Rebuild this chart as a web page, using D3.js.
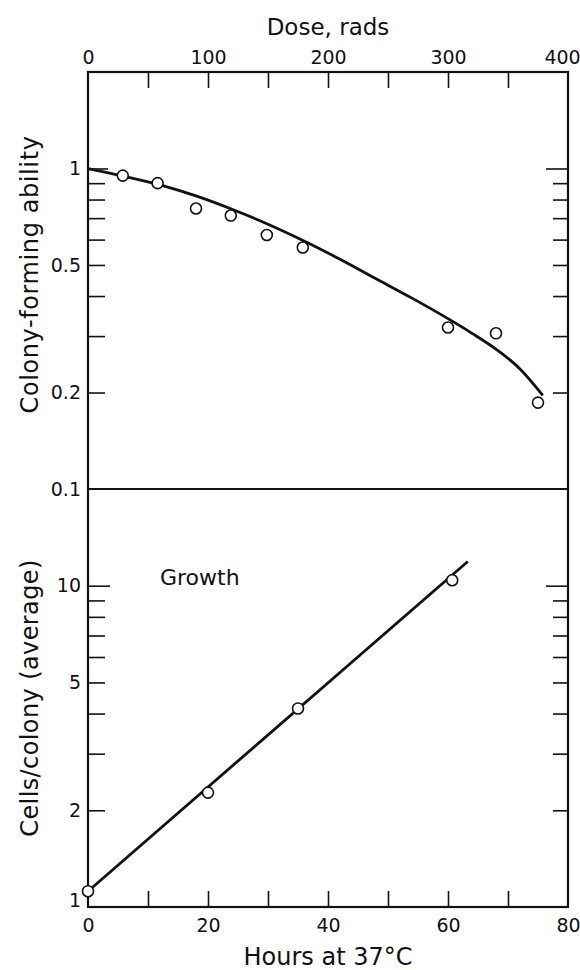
<!DOCTYPE html>
<html>
<head>
<meta charset="utf-8">
<script src="https://cdn.jsdelivr.net/npm/d3@7"></script>
<style>
  body { margin: 0; background: #fff; }
  text { font-family: "DejaVu Sans", sans-serif; fill: #111; }
</style>
</head>
<body>
<svg id="chart" width="580" height="970"></svg>
<script>
// tick values
const doseTicks = [0, 100, 200, 300, 400];
const doseMinor = [50, 100, 150, 200, 250, 300, 350];
const hourTicks = [0, 20, 40, 60, 80];
const hourMinor = [10, 20, 30, 40, 50, 60, 70];
const survivalLabels = [1, 0.5, 0.2, 0.1];
const survivalMinor = [0.9, 0.8, 0.7, 0.6, 0.5, 0.4, 0.3, 0.2];
const growthLabels = [10, 5, 2, 1];
const growthMinor = [9, 8, 7, 6, 5, 4, 3, 2];

// survival after irradiation
const doseObserved = [29, 58, 90, 119, 149, 179, 300, 340, 375];
const survivalObserved = [0.95, 0.9, 0.75, 0.713, 0.62, 0.567, 0.319, 0.306, 0.186];
const doseFit = [0, 30, 60, 90, 120, 150, 180, 210, 240, 270, 300, 320, 340, 360, 379];
const survivalFit = [1.0, 0.946, 0.889, 0.821, 0.746, 0.67, 0.594, 0.521, 0.453, 0.394, 0.34, 0.306, 0.273, 0.237, 0.196];

// growth at 37 C
const hoursObserved = [0, 20, 35, 60.7];
const cellsObserved = [1.12, 2.27, 4.15, 10.4];
const hoursFit = [0, 63.3];
const cellsFit = [1.12, 11.9];

const svg = d3.select("#chart");
const plotLeft = 88, plotRight = 568;
const plotTop = 72, plotMid = 489, plotBottom = 907;

const xDose = d3.scaleLinear().domain([0, 400]).range([plotLeft, plotRight]);
const xHours = d3.scaleLinear().domain([0, 80]).range([plotLeft, plotRight]);
const ySurv = d3.scaleLog().domain([0.1, 2]).range([plotMid, plotTop]);
const yCells = d3.scaleLog().domain([1, 20]).range([plotBottom, plotMid]);

function tickLayer(axis, x, y) {
  const g = svg.append("g").attr("transform", `translate(${x},${y})`).call(axis);
  g.select(".domain").remove();
  g.selectAll("line").attr("stroke", "#111").attr("stroke-width", 1.6);
  g.selectAll("text").attr("font-size", 19).attr("fill", "#111").style("font-family", '"DejaVu Sans", sans-serif');
  return g;
}

// top axis (dose)
tickLayer(d3.axisTop(xDose).tickValues(doseMinor).tickSize(-16).tickFormat(""), 0, plotTop);
tickLayer(d3.axisTop(xDose).tickValues(doseTicks).tickSize(0).tickPadding(8).tickFormat(d3.format("d")), 0, plotTop)
  .selectAll("text").attr("dx", d => d === 400 ? -6 : 0);

// bottom axis (hours)
tickLayer(d3.axisBottom(xHours).tickValues(hourMinor).tickSize(-16).tickFormat(""), 0, plotBottom);
tickLayer(d3.axisBottom(xHours).tickValues(hourTicks).tickSize(0).tickPadding(12).tickFormat(d3.format("d")), 0, plotBottom);

// left / right ticks, survival panel
tickLayer(d3.axisLeft(ySurv).tickValues(survivalMinor).tickSize(-17).tickFormat(""), plotLeft, 0);
tickLayer(d3.axisLeft(ySurv).tickValues([1]).tickSize(-20).tickFormat(""), plotLeft, 0);
tickLayer(d3.axisLeft(ySurv).tickValues(survivalLabels).tickSize(0).tickPadding(7).tickFormat(d => String(d)), plotLeft, 0);
tickLayer(d3.axisRight(ySurv).tickValues(survivalMinor).tickSize(-15).tickFormat(""), plotRight, 0);
tickLayer(d3.axisRight(ySurv).tickValues([1]).tickSize(-22).tickFormat(""), plotRight, 0);

// left / right ticks, growth panel
tickLayer(d3.axisLeft(yCells).tickValues(growthMinor).tickSize(-17).tickFormat(""), plotLeft, 0);
tickLayer(d3.axisLeft(yCells).tickValues([10]).tickSize(-22).tickFormat(""), plotLeft, 0);
tickLayer(d3.axisLeft(yCells).tickValues(growthLabels).tickSize(0).tickPadding(7).tickFormat(d => String(d)), plotLeft, 0)
  .selectAll("text").attr("dy", d => d === 1 ? "-0.05em" : "0.32em");
tickLayer(d3.axisRight(yCells).tickValues(growthMinor).tickSize(-15).tickFormat(""), plotRight, 0);
tickLayer(d3.axisRight(yCells).tickValues([10]).tickSize(-22).tickFormat(""), plotRight, 0);

// frames
svg.append("rect")
  .attr("x", plotLeft).attr("y", plotTop)
  .attr("width", plotRight - plotLeft).attr("height", plotBottom - plotTop)
  .attr("fill", "none").attr("stroke", "#111").attr("stroke-width", 2.2);
svg.append("line")
  .attr("x1", plotLeft).attr("x2", plotRight).attr("y1", plotMid).attr("y2", plotMid)
  .attr("stroke", "#111").attr("stroke-width", 2.2);

// fitted curves
const survLine = d3.line()
  .x((d, i) => xDose(doseFit[i]))
  .y(d => ySurv(d))
  .curve(d3.curveMonotoneX);
svg.append("path")
  .attr("d", survLine(survivalFit))
  .attr("fill", "none").attr("stroke", "#111").attr("stroke-width", 2.8);

const growthLine = d3.line()
  .x((d, i) => xHours(hoursFit[i]))
  .y(d => yCells(d));
svg.append("path")
  .attr("d", growthLine(cellsFit))
  .attr("fill", "none").attr("stroke", "#111").attr("stroke-width", 2.8);

// observed points
svg.append("g").selectAll("circle")
  .data(survivalObserved)
  .join("circle")
  .attr("cx", (d, i) => xDose(doseObserved[i]))
  .attr("cy", d => ySurv(d))
  .attr("r", 5.5)
  .attr("fill", "#fff").attr("stroke", "#111").attr("stroke-width", 1.6);

svg.append("g").selectAll("circle")
  .data(cellsObserved)
  .join("circle")
  .attr("cx", (d, i) => xHours(hoursObserved[i]))
  .attr("cy", d => yCells(d))
  .attr("r", 5.5)
  .attr("fill", "#fff").attr("stroke", "#111").attr("stroke-width", 1.6);

// titles
svg.append("text")
  .attr("x", (plotLeft + plotRight) / 2).attr("y", 35)
  .attr("text-anchor", "middle").attr("font-size", 23)
  .text("Dose, rads");
svg.append("text")
  .attr("x", (plotLeft + plotRight) / 2).attr("y", 965)
  .attr("text-anchor", "middle").attr("font-size", 24)
  .text("Hours at 37°C");
svg.append("text")
  .attr("transform", `translate(38,${(plotTop + plotMid) / 2 - 6}) rotate(-90)`)
  .attr("text-anchor", "middle").attr("font-size", 24)
  .attr("letter-spacing", 0.6)
  .text("Colony-forming ability");
svg.append("text")
  .attr("transform", `translate(38,${(plotMid + plotBottom) / 2}) rotate(-90)`)
  .attr("text-anchor", "middle").attr("font-size", 24)
  .attr("letter-spacing", 0.4)
  .text("Cells/colony (average)");
svg.append("text")
  .attr("x", 160).attr("y", 585)
  .attr("font-size", 22)
  .text("Growth");
</script>
</body>
</html>
